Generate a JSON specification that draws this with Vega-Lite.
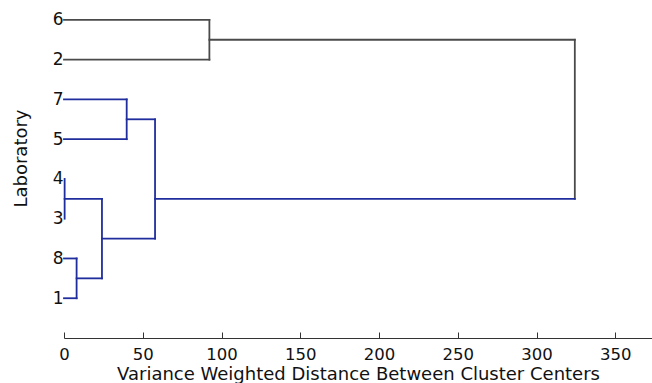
{
  "$schema": "https://vega.github.io/schema/vega-lite/v6.json",
  "width": 588,
  "height": 338,
  "autosize": "none",
  "padding": {"left": 64, "top": 0, "right": 0, "bottom": 45},
  "background": "white",
  "config": {"view": {"stroke": null}},
  "data": {
    "values": [
      {"x1": 0, "x2": 92.3, "y1": 8, "y2": 8, "g": "gray"},
      {"x1": 0, "x2": 92.3, "y1": 7, "y2": 7, "g": "gray"},
      {"x1": 92.3, "x2": 92.3, "y1": 7, "y2": 8, "g": "gray"},
      {"x1": 92.3, "x2": 324.3, "y1": 7.5, "y2": 7.5, "g": "gray"},
      {"x1": 324.3, "x2": 324.3, "y1": 3.5, "y2": 7.5, "g": "gray"},
      {"x1": 0, "x2": 39.8, "y1": 6, "y2": 6, "g": "blue"},
      {"x1": 0, "x2": 39.8, "y1": 5, "y2": 5, "g": "blue"},
      {"x1": 39.8, "x2": 39.8, "y1": 5, "y2": 6, "g": "blue"},
      {"x1": 39.8, "x2": 57.8, "y1": 5.5, "y2": 5.5, "g": "blue"},
      {"x1": 0.4, "x2": 0.4, "y1": 3, "y2": 4, "g": "blue"},
      {"x1": 0.4, "x2": 24.1, "y1": 3.5, "y2": 3.5, "g": "blue"},
      {"x1": 0, "x2": 8, "y1": 2, "y2": 2, "g": "blue"},
      {"x1": 0, "x2": 8, "y1": 1, "y2": 1, "g": "blue"},
      {"x1": 8, "x2": 8, "y1": 1, "y2": 2, "g": "blue"},
      {"x1": 8, "x2": 24.1, "y1": 1.5, "y2": 1.5, "g": "blue"},
      {"x1": 24.1, "x2": 24.1, "y1": 1.5, "y2": 3.5, "g": "blue"},
      {"x1": 24.1, "x2": 57.8, "y1": 2.5, "y2": 2.5, "g": "blue"},
      {"x1": 57.8, "x2": 57.8, "y1": 2.5, "y2": 5.5, "g": "blue"},
      {"x1": 57.8, "x2": 324.3, "y1": 3.5, "y2": 3.5, "g": "blue"}
    ]
  },
  "mark": {"type": "rule", "strokeWidth": 1.8, "strokeCap": "square"},
  "encoding": {
    "x": {
      "field": "x1",
      "type": "quantitative",
      "scale": {"domain": [0, 373.3], "nice": false, "zero": false},
      "axis": {
        "title": "Variance Weighted Distance Between Cluster Centers",
        "values": [0, 50, 100, 150, 200, 250, 300, 350],
        "grid": false,
        "tickSize": -6,
        "tickColor": "#333",
        "domainColor": "#333",
        "labelFont": "DejaVu Sans",
        "labelFontSize": 16.5,
        "labelColor": "#111",
        "labelPadding": 14,
        "labelFlush": false,
        "titleFont": "DejaVu Sans",
        "titleFontSize": 18,
        "titleFontWeight": "normal",
        "titleColor": "#111",
        "titlePadding": 3
      }
    },
    "x2": {"field": "x2"},
    "y": {
      "field": "y1",
      "type": "quantitative",
      "scale": {"domain": [0, 8.5], "nice": false, "zero": false},
      "axis": {
        "title": "Laboratory",
        "values": [1, 2, 3, 4, 5, 6, 7, 8],
        "labelExpr": "{'1':'1','2':'8','3':'3','4':'4','5':'5','6':'7','7':'2','8':'6'}[datum.label]",
        "grid": false,
        "ticks": false,
        "domain": false,
        "labelPadding": 1,
        "labelFont": "DejaVu Sans",
        "labelFontSize": 17,
        "labelColor": "#111",
        "titleFont": "DejaVu Sans",
        "titleFontSize": 18,
        "titleFontWeight": "normal",
        "titleColor": "#111",
        "titlePadding": 22,
        "titleY": 158
      }
    },
    "y2": {"field": "y2"},
    "color": {
      "field": "g",
      "type": "nominal",
      "scale": {"domain": ["gray", "blue"], "range": ["#4a4a4a", "#1f2e9c"]},
      "legend": null
    }
  }
}
